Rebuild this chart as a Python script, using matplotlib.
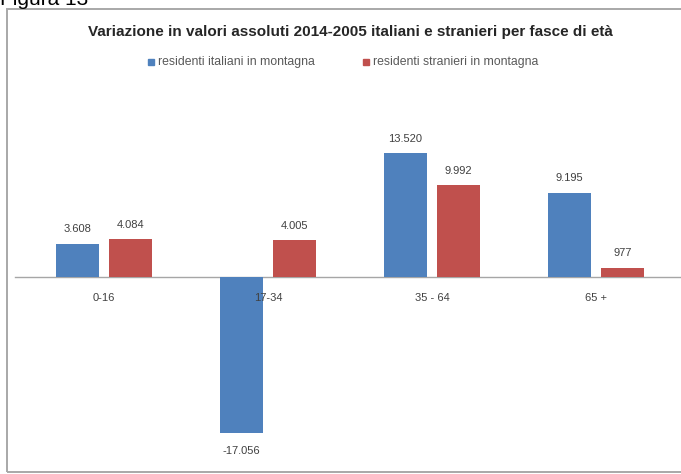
import matplotlib
matplotlib.use("Agg")
import matplotlib.pyplot as plt
from matplotlib.patches import Rectangle

categories = ["0-16", "17-34", "35 - 64", "65 +"]
italiani = [3608, -17056, 13520, 9195]
stranieri = [4084, 4005, 9992, 977]
series_names = ["residenti italiani in montagna", "residenti stranieri in montagna"]
title = "Variazione in valori assoluti 2014-2005 italiani e stranieri per fasce di età"

W, H = 681, 474
fig = plt.figure(figsize=(W / 100, H / 100), dpi=100)
plt.rcParams['font.family'] = ['Liberation Sans', 'DejaVu Sans']

def fx(px):
    return px / W

def fy(py):
    return 1 - py / H

PT = 72 / 100  # points per pixel at dpi 100

# chart border
fig.patches.append(Rectangle((fx(7), fy(472)), fx(700) - fx(7), fy(9) - fy(472),
                             transform=fig.transFigure, fill=False,
                             edgecolor="#A8A8A8", lw=1.4))

# "Figura 13" header, mostly cut off at the top edge as in the original
fig.text(fx(0), fy(5), "Figura 13", ha="left", va="baseline", fontsize=15, color="#000000")

ax = fig.add_axes([fx(22), fy(460), fx(678) - fx(22), fy(139.5) - fy(460)])
ax.set_xlim(-0.5, len(categories) - 0.5)
ax.set_ylim(-20000, 15000)

blue = "#4F81BD"
red = "#C0504D"
bw = 0.26
off = 0.163
xs = list(range(len(categories)))
b1 = ax.bar([x - off for x in xs], italiani, width=bw, color=blue, zorder=2)
b2 = ax.bar([x + off for x in xs], stranieri, width=bw, color=red, zorder=2)

def fmt(v):
    return f"{v:,}".replace(",", ".")

for bars, vals in ((b1, italiani), (b2, stranieri)):
    for rect, v in zip(bars, vals):
        cx = rect.get_x() + rect.get_width() / 2
        dy = 14.5 if v >= 0 else -18
        ax.annotate(fmt(v), (cx, v), xytext=(0, dy * PT), textcoords="offset points",
                    ha="center", va="center", fontsize=8, color="#404040")

ax.axhline(0, color="#A6A6A6", lw=1, zorder=1, xmin=-0.01, xmax=1.02, clip_on=False)
for x, c in zip(xs, categories):
    ax.annotate(c, (x, 0), xytext=(0, -21 * PT), textcoords="offset points",
                ha="center", va="center", fontsize=8, color="#404040", zorder=3)

for s in ax.spines.values():
    s.set_visible(False)
ax.set_xticks([])
ax.set_yticks([])
ax.patch.set_alpha(0)

fig.text(fx(350), fy(32), title, ha="center", va="center", fontsize=11,
         fontweight="bold", color="#262626")

# legend
for sx, tx, col, name in ((151, 158, blue, series_names[0]), (366, 373, red, series_names[1])):
    fig.patches.append(Rectangle((fx(sx - 3), fy(65)), fx(6), fy(59) - fy(65),
                                 transform=fig.transFigure, color=col))
    fig.text(fx(tx), fy(62), name, ha="left", va="center", fontsize=8.8, color="#595959")

fig.savefig("out.png", dpi=100)
